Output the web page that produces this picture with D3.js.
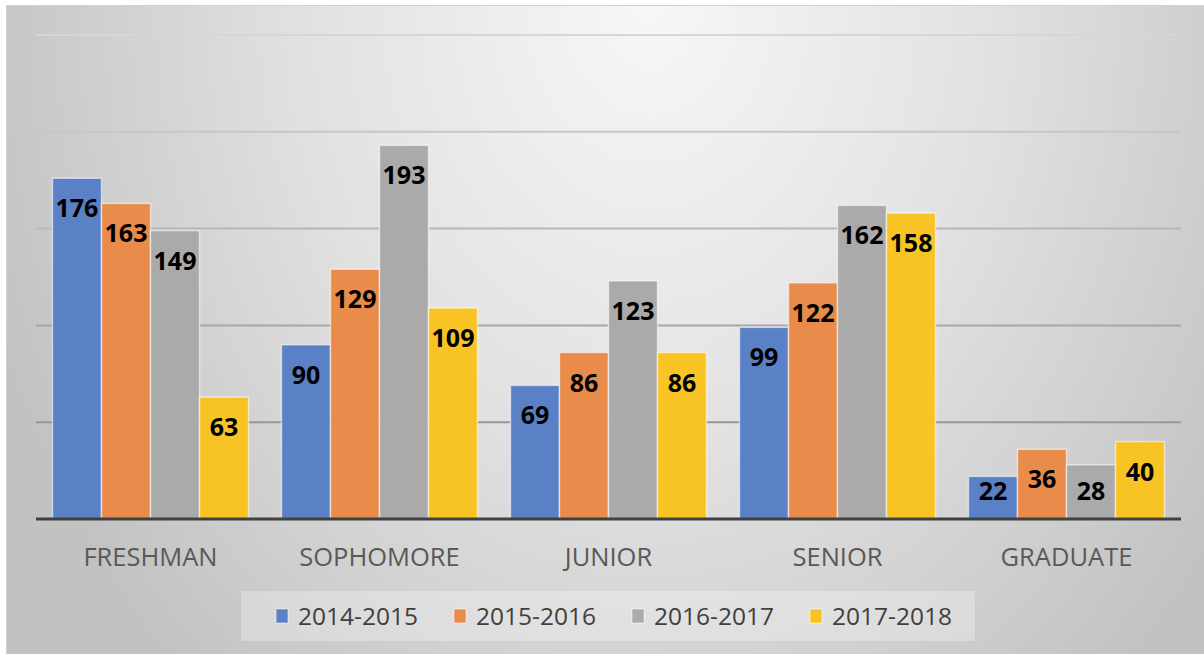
<!DOCTYPE html>
<html>
<head>
<meta charset="utf-8">
<script src="https://cdn.jsdelivr.net/npm/d3@7"></script>
<style>
  body { margin: 0; background: #fff; }
  svg { display: block; font-family: "Open Sans", sans-serif; }
</style>
</head>
<body>
<div id="chart"></div>
<script>
var categories = ["FRESHMAN", "SOPHOMORE", "JUNIOR", "SENIOR", "GRADUATE"];
var seriesNames = ["2014-2015", "2015-2016", "2016-2017", "2017-2018"];
var s2014 = [176, 90, 69, 99, 22];
var s2015 = [163, 129, 86, 122, 36];
var s2016 = [149, 193, 123, 162, 28];
var s2017 = [63, 109, 86, 158, 40];
var colors = ["#5a80c6", "#e98b4b", "#aaaaaa", "#f8c324"];

var seriesValues = [s2014, s2015, s2016, s2017];

var w = 1204, h = 654;

var svg = d3.select("#chart").append("svg")
  .attr("width", w)
  .attr("height", h);

var defs = svg.append("defs");
var bg = defs.append("radialGradient")
  .attr("id", "bg")
  .attr("gradientUnits", "userSpaceOnUse")
  .attr("cx", 650).attr("cy", 0).attr("r", 700)
  .attr("gradientTransform", "translate(650,0) scale(1,1.3) translate(-650,0)");
bg.append("stop").attr("offset", "0").attr("stop-color", "#f7f7f7");
bg.append("stop").attr("offset", "0.5").attr("stop-color", "#e1e1e1");
bg.append("stop").attr("offset", "1").attr("stop-color", "#c2c2c2");

var gridGrad = defs.append("linearGradient")
  .attr("id", "gridGrad")
  .attr("gradientUnits", "userSpaceOnUse")
  .attr("x1", 0).attr("y1", 35).attr("x2", 0).attr("y2", 519);
gridGrad.append("stop").attr("offset", "0").attr("stop-color", "#d6d6d6");
gridGrad.append("stop").attr("offset", "1").attr("stop-color", "#888888");

// background panel
svg.append("rect")
  .attr("x", 6.5).attr("y", 5.5)
  .attr("width", w - 6).attr("height", h - 5)
  .attr("fill", "url(#bg)")
  .attr("stroke", "#d0d0d0");

var x0 = d3.scaleBand()
  .domain(categories)
  .range([36, 1181])
  .paddingInner(0.144)
  .paddingOuter(0.072);

var x1 = d3.scaleBand()
  .domain(seriesNames)
  .range([0, x0.bandwidth()]);

var y = d3.scaleLinear()
  .domain([0, 250])
  .range([519, 35]);

// gridlines
svg.append("g")
  .selectAll("line")
  .data(y.ticks(5).filter(function(d) { return d > 0; }))
  .enter()
  .append("line")
  .attr("x1", 36).attr("x2", 1181)
  .attr("y1", function(d) { return y(d); })
  .attr("y2", function(d) { return y(d); })
  .attr("stroke", "url(#gridGrad)")
  .attr("stroke-width", 2);

// bars
var rows = [];
categories.forEach(function(c, i) {
  seriesNames.forEach(function(s, j) {
    rows.push({ cat: c, series: s, j: j, value: seriesValues[j][i] });
  });
});

var bars = svg.append("g");
bars.selectAll("rect")
  .data(rows)
  .enter()
  .append("rect")
  .attr("x", function(d) { return x0(d.cat) + x1(d.series); })
  .attr("y", function(d) { return y(d.value); })
  .attr("width", x1.bandwidth())
  .attr("height", function(d) { return y(0) - y(d.value); })
  .attr("fill", function(d) { return colors[d.j]; })
  .attr("stroke", "rgba(255,255,255,0.55)")
  .attr("stroke-width", 1.5);

bars.selectAll("text")
  .data(rows)
  .enter()
  .append("text")
  .text(function(d) { return d.value; })
  .attr("text-anchor", "middle")
  .attr("dominant-baseline", "central")
  .attr("x", function(d) { return x0(d.cat) + x1(d.series) + x1.bandwidth() / 2; })
  .attr("y", function(d) { return Math.min(y(d.value) + 29, y(0) - 29); })
  .attr("font-size", "25px")
  .attr("font-weight", "bold")
  .attr("fill", "#000");

// baseline
svg.append("line")
  .attr("x1", 36).attr("x2", 1181)
  .attr("y1", y(0)).attr("y2", y(0))
  .attr("stroke", "#404040")
  .attr("stroke-width", 3);

// category axis
var xAxis = svg.append("g")
  .attr("transform", "translate(0," + y(0) + ")")
  .call(d3.axisBottom(x0).tickSize(0).tickPadding(0));
xAxis.select(".domain").remove();
xAxis.selectAll("text")
  .attr("y", 38)
  .attr("dy", "0.35em")
  .attr("font-family", "'Open Sans', sans-serif")
  .attr("font-size", "25.5px")
  .attr("fill", "#595959");

// legend
var legend = svg.append("g");
legend.append("rect")
  .attr("x", 241).attr("y", 591)
  .attr("width", 734).attr("height", 50)
  .attr("fill", "rgba(255,255,255,0.28)");

var legendX = d3.scalePoint()
  .domain(seriesNames)
  .range([276, 810]);

var items = legend.selectAll("g.item")
  .data(seriesNames)
  .enter()
  .append("g")
  .attr("class", "item")
  .attr("transform", function(d) { return "translate(" + legendX(d) + ",616)"; });

items.append("rect")
  .attr("x", 0).attr("y", -7)
  .attr("width", 12).attr("height", 14)
  .attr("fill", function(d, i) { return colors[i]; })
  .attr("stroke", "rgba(255,255,255,0.55)");

items.append("text")
  .text(function(d) { return d; })
  .attr("x", 22)
  .attr("dy", "0.35em")
  .attr("font-size", "24.5px")
  .attr("fill", "#404040");
</script>
</body>
</html>
